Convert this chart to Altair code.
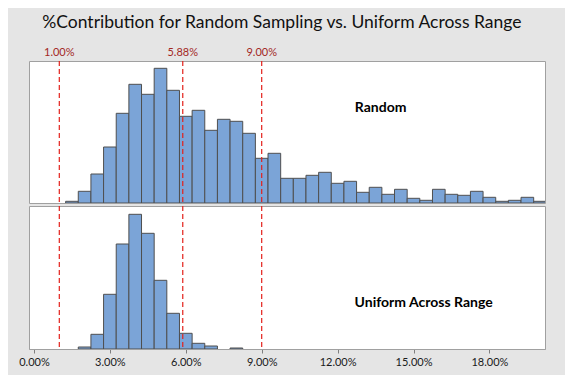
import altair as alt
import pandas as pd

# ---- data ----
random_centers = [1.5, 2.0, 2.5, 3.0, 3.5, 4.0, 4.5, 5.0, 5.5, 6.0, 6.5, 7.0, 7.5, 8.0,
                  8.5, 9.0, 9.5, 10.0, 10.5, 11.0, 11.5, 12.0, 12.5, 13.0, 13.5, 14.0,
                  14.5, 15.0, 15.5, 16.0, 16.5, 17.0, 17.5, 18.0, 18.5, 19.0, 19.5, 20.0]
random_counts = [1.7, 11.7, 29, 56, 89.7, 118.7, 108.7, 134.7, 112.7, 86.7, 92.7, 72.7,
                 83.7, 81.7, 69.7, 44.7, 49.7, 24.7, 24.7, 27.7, 30.7, 19.7, 21.7, 10.7,
                 15.7, 8.7, 13.7, 4.7, 2.7, 13.7, 8.7, 7.7, 11.7, 5.7, 1.7, 2.7, 5.7, 1.7]

uniform_centers = [2.0, 2.5, 3.0, 3.5, 4.0, 4.5, 5.0, 5.5, 6.0, 6.5, 7.0, 8.0]
uniform_counts = [2, 14.7, 54.7, 105, 134.7, 115.7, 68.7, 35.7, 15.7, 5.7, 3, 1]

ref_values = [1.0, 5.88, 9.0]
ref_labels = ["1.00%", "5.88%", "9.00%"]
x_ticks = [0, 3, 6, 9, 12, 15, 18]

panel_labels = ["Random", "Uniform Across Range"]
panel_label_x = [13.7, 15.4]
panel_label_y = [95, 46]

title_text = "%Contribution for Random Sampling vs. Uniform Across Range"

FONT = "Lato"
HALF_BIN = 0.25
W = 516
BAR_FILL = "#7ba4d7"
BAR_STROKE = "#4f4f4f"
REF_COLOR = "#e3211b"

xscale = alt.Scale(domain=[0, 20], nice=False, zero=False)


def make_axis(show):
    if not show:
        return None
    return alt.Axis(values=x_ticks, labelExpr="format(datum.value, '.2f') + '%'",
                    title=None, grid=False, tickSize=4, tickColor="#7f7f7f",
                    domainColor="#a0a0a0", labelFontSize=11, labelColor="#1a1a1a",
                    labelFont=FONT, labelPadding=3, labelFlush=False)


def panel(centers, counts, ymax, idx, show_axis, show_ref_labels, height):
    yscale = alt.Scale(domain=[0, ymax], nice=False, zero=True)
    ax = make_axis(show_axis)
    df = pd.DataFrame({"center": centers, "count": counts})
    bars = alt.Chart(df).transform_calculate(
        lo=f"datum.center - {HALF_BIN}", hi=f"datum.center + {HALF_BIN}"
    ).mark_bar(fill=BAR_FILL, stroke=BAR_STROKE, strokeWidth=1, clip=True,
               orient="vertical").encode(
        x=alt.X("lo:Q", scale=xscale, axis=ax),
        x2="hi:Q",
        y=alt.Y("count:Q", scale=yscale, axis=None),
        y2=alt.datum(0),
    )
    ref_df = pd.DataFrame({"v": ref_values, "lab": ref_labels})
    rules = alt.Chart(ref_df).mark_rule(color=REF_COLOR, strokeDash=[5, 3],
                                        strokeWidth=1.2).encode(
        x=alt.X("v:Q", scale=xscale, axis=ax))
    lab_df = pd.DataFrame({"x": [panel_label_x[idx]], "y": [panel_label_y[idx]],
                           "t": [panel_labels[idx]]})
    label = alt.Chart(lab_df).mark_text(font=FONT, fontSize=14, fontWeight="bold",
                                        color="#000000").encode(
        x=alt.X("x:Q", scale=xscale, axis=ax),
        y=alt.Y("y:Q", scale=yscale, axis=None),
        text="t:N")
    layers = [bars, rules, label]
    if show_ref_labels:
        reftext = alt.Chart(ref_df).mark_text(font=FONT, fontSize=11, color="#a3281f",
                                              baseline="bottom", dy=-3).encode(
            x=alt.X("v:Q", scale=xscale, axis=ax),
            y=alt.value(0),
            text="lab:N")
        layers.append(reftext)
    return alt.layer(*layers).properties(width=W, height=height)


top = panel(random_centers, random_counts, 142, 0, False, True, 142)
bottom = panel(uniform_centers, uniform_counts, 143, 1, True, False, 143)

chart = alt.vconcat(top, bottom, spacing=-1).properties(
    title=alt.TitleParams(title_text, font=FONT, fontSize=17.5, fontWeight="normal",
                          color="#111111", anchor="middle", offset=15),
    background="#e5e5e5",
    padding={"left": 10, "top": 6, "right": 19, "bottom": 7},
).configure_view(stroke="#a0a0a0", strokeWidth=1, fill="white")

chart.save("out.html", embed_options={"renderer": "svg", "actions": False})
